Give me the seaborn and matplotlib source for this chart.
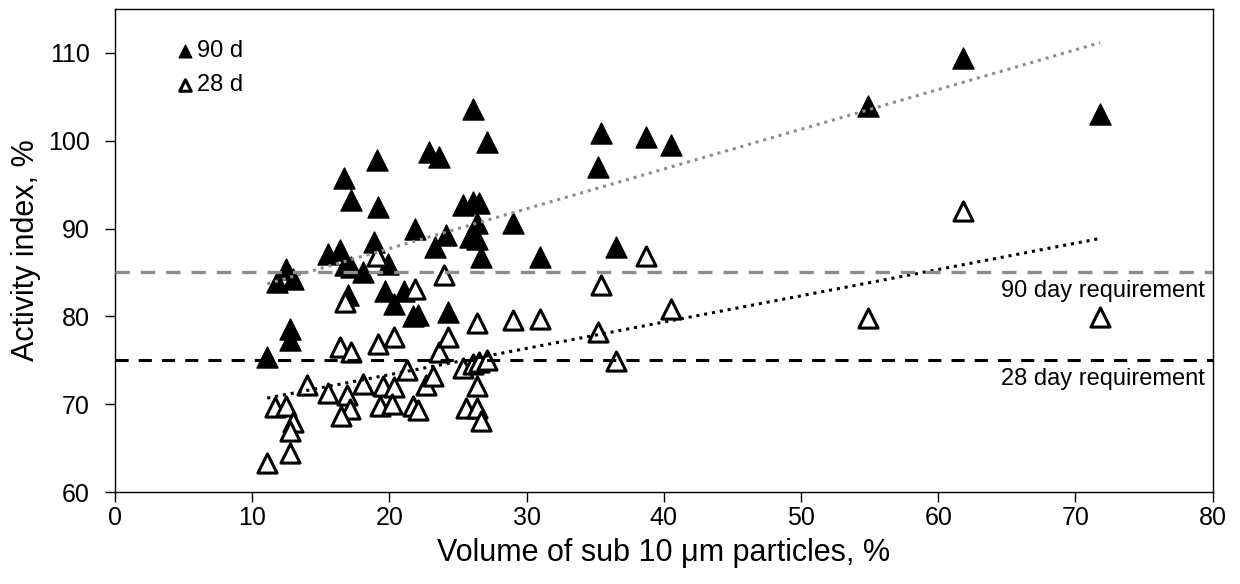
import numpy as np
import pandas as pd
import seaborn as sns
import matplotlib.pyplot as plt

# 90 day activity index (filled triangles)
x_90 = [11.1, 11.8, 12.5, 13.0, 12.75, 12.75, 15.5, 16.4, 16.7, 17.2,
        16.8, 17.2, 17.0, 18.1, 18.9, 19.1, 19.2, 19.9, 19.7, 20.3,
        21.1, 21.7, 22.1, 21.9, 22.9, 23.6, 23.3, 24.1, 24.3, 25.4,
        25.9, 26.1, 26.1, 26.5, 26.4, 26.4, 26.7, 27.1, 29.0, 31.0,
        35.2, 35.4, 36.5, 38.7, 40.5, 54.9, 61.8, 71.8]
y_90 = [75.4, 83.9, 85.4, 84.2, 78.6, 77.3, 87.1, 87.6, 95.7, 93.2,
        85.8, 85.6, 82.4, 85.0, 88.5, 97.8, 92.4, 86.0, 82.9, 81.4,
        82.9, 80.0, 80.2, 89.9, 98.7, 98.2, 87.9, 89.3, 80.5, 92.7,
        89.0, 103.6, 93.0, 92.9, 90.6, 88.8, 86.8, 99.9, 90.6, 86.8,
        97.0, 100.9, 87.9, 100.4, 99.5, 104.0, 109.4, 103.0]

# 28 day activity index (open triangles)
x_28 = [11.1, 11.7, 12.5, 13.0, 12.75, 12.75, 14.0, 15.5, 16.9, 17.1,
        16.5, 16.4, 17.2, 16.8, 18.1, 19.2, 19.1, 19.5, 19.3, 20.3,
        20.2, 20.3, 21.3, 21.7, 22.1, 21.9, 22.7, 23.2, 23.6, 24.0,
        24.3, 25.4, 25.6, 26.1, 26.5, 27.1, 26.4, 26.4, 26.7, 26.4,
        29.0, 31.0, 35.2, 35.4, 36.5, 38.7, 40.5, 54.9, 61.8, 71.8]
y_28 = [63.3, 69.7, 69.8, 68.0, 66.9, 64.4, 72.2, 71.3, 71.0, 69.5,
        68.7, 76.5, 75.9, 81.6, 72.3, 76.9, 86.9, 72.1, 69.8, 72.0,
        70.0, 77.7, 73.9, 69.8, 69.3, 83.1, 72.2, 73.2, 76.0, 84.7,
        77.7, 74.1, 69.6, 74.6, 74.8, 75.0, 72.1, 69.6, 68.1, 79.2,
        79.6, 79.7, 78.2, 83.6, 74.9, 86.9, 80.8, 79.8, 92.0, 79.9]

req_90 = 85
req_28 = 75

df90 = pd.DataFrame({"x": x_90, "y": y_90})
df28 = pd.DataFrame({"x": x_28, "y": y_28})

sns.set_style("ticks")
plt.rcParams["font.family"] = ["Liberation Sans", "DejaVu Sans"]
plt.rcParams["text.color"] = "black"
plt.rcParams["axes.labelcolor"] = "black"
plt.rcParams["xtick.color"] = "black"
plt.rcParams["ytick.color"] = "black"

fig, ax = plt.subplots(figsize=(12.4, 5.84), dpi=100)
fig.subplots_adjust(left=0.0927, right=0.978, bottom=0.1575, top=0.9846)

sns.scatterplot(data=df90, x="x", y="y", marker="^", s=230, color="black",
                edgecolor="black", linewidth=1, label="90 d", zorder=3, ax=ax)
sns.scatterplot(data=df28, x="x", y="y", marker="^", s=190, color="white",
                edgecolor="black", linewidth=2.2, label="28 d", zorder=4, ax=ax)

# linear trendlines
sns.regplot(data=df90, x="x", y="y", scatter=False, ci=None, color="#8c8c8c",
            line_kws={"linestyle": (0, (1, 1.6)), "linewidth": 2.2, "zorder": 5}, ax=ax)
sns.regplot(data=df28, x="x", y="y", scatter=False, ci=None, color="black",
            line_kws={"linestyle": (0, (1, 1.6)), "linewidth": 2.2, "zorder": 5}, ax=ax)

# requirement lines
ax.axhline(req_90, color="#8c8c8c", linestyle=(0, (4.3, 3.3)), linewidth=2.4, zorder=5)
ax.axhline(req_28, color="black", linestyle=(0, (4.3, 3.3)), linewidth=2.2, zorder=5)
ax.text(79.4, 82.9, "90 day requirement", ha="right", va="center", fontsize=17)
ax.text(79.4, 72.9, "28 day requirement", ha="right", va="center", fontsize=17)

ax.set_xlim(0, 80)
ax.set_ylim(60, 115)
ax.set_xticks(np.arange(0, 81, 10))
ax.set_yticks(np.arange(60, 111, 10))
ax.tick_params(direction="out", length=7, width=1, labelsize=18)
ax.tick_params(axis="y", pad=11)
ax.tick_params(axis="x", pad=3)
for sp in ax.spines.values():
    sp.set_linewidth(1)
    sp.set_color("black")

ax.set_xlabel("Volume of sub 10 μm particles, %", fontsize=22, labelpad=6)
ax.set_ylabel("Activity index, %", fontsize=22, labelpad=5)

ax.legend(loc="upper left", bbox_to_anchor=(0.038, 0.97), frameon=False,
          handletextpad=0.0, markerscale=0.6, fontsize=17, labelspacing=0.5,
          handlelength=1.0, borderaxespad=0.3)

plt.savefig("out.png", dpi=100)
